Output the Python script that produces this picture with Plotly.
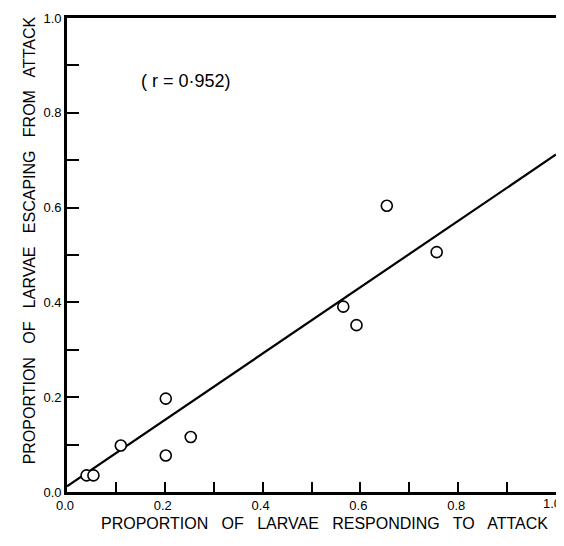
import plotly.graph_objects as go

# Data
responding = [0.040, 0.054, 0.110, 0.202, 0.202, 0.253, 0.565, 0.592, 0.654, 0.756]
escaping = [0.035, 0.035, 0.098, 0.197, 0.077, 0.116, 0.391, 0.352, 0.604, 0.506]
fit_x = [0.0, 1.0]
fit_y = [0.012, 0.712]
tick_vals = [0.0, 0.1, 0.2, 0.3, 0.4, 0.5, 0.6, 0.7, 0.8, 0.9, 1.0]
tick_text = ["0.0", "", "0.2", "", "0.4", "", "0.6", "", "0.8", "", "1.0"]
x_tick_text = ["0.0", "", "0.2", "", "0.4", "", "0.6", "", "0.8", "", ""]

FONT = "Liberation Sans, Arial, sans-serif"

fig = go.Figure()
fig.add_trace(go.Scatter(x=fit_x, y=fit_y, mode="lines",
                         line=dict(color="black", width=2.2), showlegend=False,
                         cliponaxis=False))
fig.add_trace(go.Scatter(x=responding, y=escaping, mode="markers",
                         marker=dict(symbol="circle", size=11, color="white",
                                     line=dict(color="black", width=1.6)),
                         showlegend=False))

axis_common = dict(range=[0, 1], tickvals=tick_vals,
                   ticks="inside", showgrid=False, zeroline=False,
                   showline=True, linecolor="black", linewidth=2.6, mirror=True,
                   tickcolor="black", tickwidth=1.8, ticklabeloverflow="allow",
                   tickfont=dict(family=FONT, size=13, color="black"))

fig.update_xaxes(**axis_common, ticktext=x_tick_text, ticklen=10, ticklabelshift=-2)
fig.update_yaxes(**axis_common, ticktext=tick_text, ticklen=12)

# last x tick label placed as an annotation so it stays inside the page
fig.add_annotation(x=tick_vals[-1], y=0, xref="x", yref="paper", showarrow=False,
                   text=tick_text[-1], xanchor="center", yanchor="top",
                   xshift=-4, yshift=-2,
                   font=dict(family=FONT, size=13, color="black"))

fig.add_annotation(x=0.244, y=0.867, xref="x", yref="y", showarrow=False,
                   text="( r = 0·952)", font=dict(family=FONT, size=18, color="black"))
fig.add_annotation(x=0.526, y=-0.088, xref="paper", yref="paper", showarrow=False,
                   text="PROPORTION   OF   LARVAE   RESPONDING   TO   ATTACK",
                   font=dict(family=FONT, size=16, color="black"))
fig.add_annotation(x=-0.098, y=0.530, xref="paper", yref="paper", showarrow=False,
                   textangle=-90,
                   text="PROPORTION   OF   LARVAE   ESCAPING   FROM   ATTACK",
                   font=dict(family=FONT, size=16, color="black"))

fig.update_layout(width=556, height=530, plot_bgcolor="white", paper_bgcolor="white",
                  margin=dict(l=59, r=8, t=3, b=46))

fig.write_html("out.html")
